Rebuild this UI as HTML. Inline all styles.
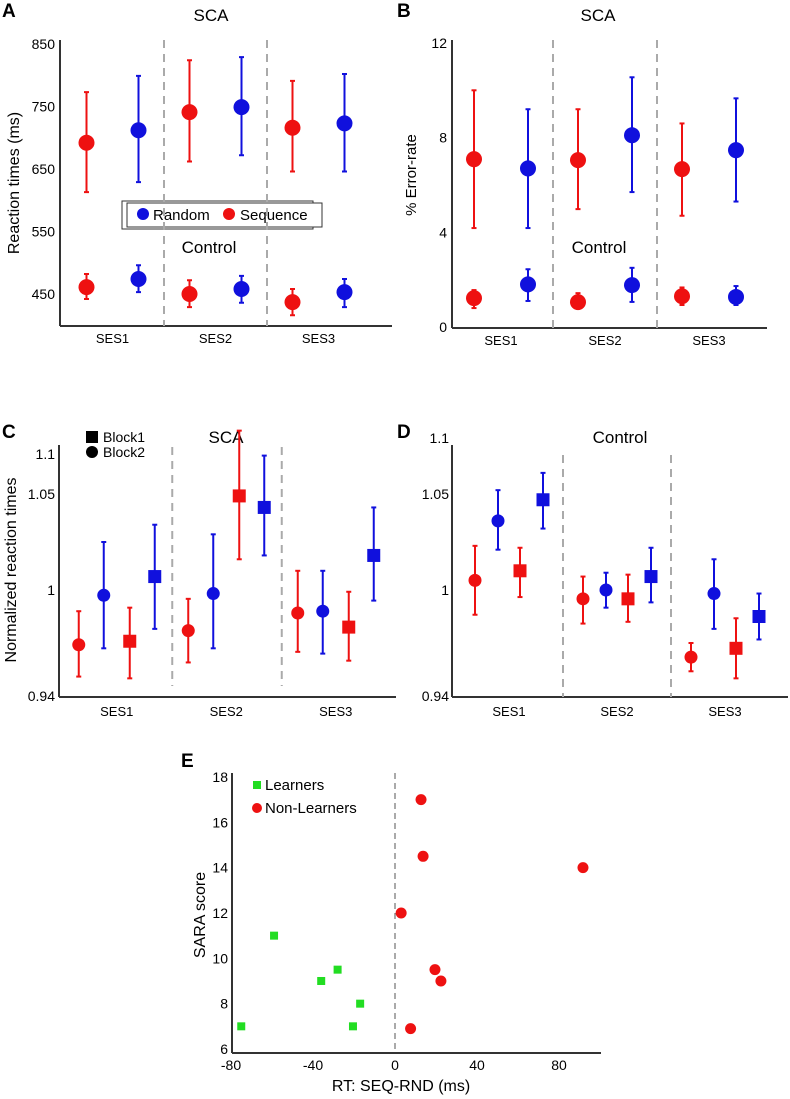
<!DOCTYPE html>
<html><head><meta charset="utf-8">
<style>
html,body{margin:0;padding:0;background:#fff;}
svg{display:block;font-family:"Liberation Sans",Arial,sans-serif;}
</style></head>
<body>
<svg id="fig" width="790" height="1099" viewBox="0 0 790 1099" xmlns="http://www.w3.org/2000/svg">
  <!-- Panel A static -->
  <g>
    <text x="2" y="17" font-size="19" font-weight="bold">A</text>
    <text x="211" y="21" font-size="17" text-anchor="middle">SCA</text>
    <line x1="60" y1="40" x2="60" y2="326" stroke="#333" stroke-width="2"/>
    <line x1="60" y1="326" x2="392" y2="326" stroke="#333" stroke-width="2"/>
    <text transform="translate(19,183) rotate(-90)" font-size="16" text-anchor="middle">Reaction times (ms)</text>
    <text x="209" y="253" font-size="17" text-anchor="middle">Control</text>
    <rect x="122" y="201" width="191" height="28" fill="#fff" stroke="#333" stroke-width="1"/>
    <rect x="127" y="203" width="195" height="24" fill="#fff" stroke="#333" stroke-width="1"/>
    <circle cx="143" cy="214" r="6" fill="#1010dd"/>
    <text x="153" y="220" font-size="15">Random</text>
    <circle cx="229" cy="214" r="6" fill="#ee1111"/>
    <text x="240" y="220" font-size="15">Sequence</text>
  </g>
  <!-- Panel B static -->
  <g>
    <text x="397" y="17" font-size="19" font-weight="bold">B</text>
    <text x="598" y="21" font-size="17" text-anchor="middle">SCA</text>
    <line x1="452" y1="40" x2="452" y2="328" stroke="#333" stroke-width="2"/>
    <line x1="452" y1="328" x2="767" y2="328" stroke="#333" stroke-width="2"/>
    <text transform="translate(416,175) rotate(-90)" font-size="15" text-anchor="middle">% Error-rate</text>
    <text x="599" y="253" font-size="17" text-anchor="middle">Control</text>
  </g>
  <!-- Panel C static -->
  <g>
    <text x="2" y="438" font-size="19" font-weight="bold">C</text>
    <text x="226" y="443" font-size="17" text-anchor="middle">SCA</text>
    <line x1="59" y1="445" x2="59" y2="697" stroke="#333" stroke-width="2"/>
    <line x1="59" y1="697" x2="396" y2="697" stroke="#333" stroke-width="2"/>
    <text transform="translate(16,570) rotate(-90)" font-size="16" text-anchor="middle">Normalized reaction times</text>
    <rect x="86" y="431" width="12" height="12" fill="#000"/>
    <text x="103" y="442" font-size="14">Block1</text>
    <circle cx="92" cy="452" r="6" fill="#000"/>
    <text x="103" y="457" font-size="14">Block2</text>
  </g>
  <!-- Panel D static -->
  <g>
    <text x="397" y="438" font-size="19" font-weight="bold">D</text>
    <text x="620" y="443" font-size="17" text-anchor="middle">Control</text>
    <line x1="452" y1="445" x2="452" y2="697" stroke="#333" stroke-width="2"/>
    <line x1="452" y1="697" x2="788" y2="697" stroke="#333" stroke-width="2"/>
  </g>
  <!-- Panel E static -->
  <g>
    <text x="181" y="767" font-size="19" font-weight="bold">E</text>
    <line x1="232" y1="773" x2="232" y2="1053" stroke="#333" stroke-width="2"/>
    <line x1="232" y1="1053" x2="601" y2="1053" stroke="#333" stroke-width="2"/>
    <text transform="translate(205,915) rotate(-90)" font-size="16" text-anchor="middle">SARA score</text>
    <text x="401" y="1091" font-size="16" text-anchor="middle">RT: SEQ-RND (ms)</text>
    <rect x="253" y="781" width="8" height="8" fill="#22dd22"/>
    <text x="265" y="790" font-size="15">Learners</text>
    <circle cx="257" cy="808" r="5" fill="#ee1111"/>
    <text x="265" y="813" font-size="15">Non-Learners</text>
  </g>
  <g id="marks"></g>
</svg>
<script>
// ---- data ----
const sessions = ["SES1","SES2","SES3"];
// Panel A (ms)
const aTicks = [450,550,650,750,850];
const aScaSeq = [692,741,716], aScaSeqLo = [613,662,646], aScaSeqHi = [773,824,791];
const aScaRnd = [712,749,723], aScaRndLo = [629,672,646], aScaRndHi = [799,829,802];
const aConSeq = [461,450,437], aConSeqLo = [442,429,416], aConSeqHi = [482,472,458];
const aConRnd = [474,458,453], aConRndLo = [453,436,429], aConRndHi = [496,479,474];
// Panel B (%)
const bTicks = [0,4,8,12];
const bScaSeq = [7.09,7.05,6.67], bScaSeqLo = [4.18,4.98,4.7], bScaSeqHi = [10.0,9.2,8.6];
const bScaRnd = [6.7,8.1,7.47], bScaRndLo = [4.18,5.7,5.3], bScaRndHi = [9.2,10.55,9.66];
const bConSeq = [1.22,1.05,1.3], bConSeqLo = [0.8,0.8,0.93], bConSeqHi = [1.56,1.43,1.67];
const bConRnd = [1.8,1.77,1.27], bConRndLo = [1.1,1.06,0.93], bConRndHi = [2.44,2.5,1.73];
// Panel C (normalized)
const cdTicks = [0.94,1,1.05];
const cSeqB2 = [0.969,0.977,0.987], cSeqB2Lo = [0.951,0.959,0.965], cSeqB2Hi = [0.988,0.995,1.010];
const cRndB2 = [0.997,0.998,0.988], cRndB2Lo = [0.967,0.967,0.964], cRndB2Hi = [1.025,1.029,1.010];
const cSeqB1 = [0.971,1.049,0.979], cSeqB1Lo = [0.950,1.016,0.960], cSeqB1Hi = [0.990,1.083,0.999];
const cRndB1 = [1.007,1.043,1.018], cRndB1Lo = [0.978,1.018,0.994], cRndB1Hi = [1.034,1.070,1.043];
// Panel D (normalized)
const dSeqB2 = [1.005,0.995,0.962], dSeqB2Lo = [0.986,0.981,0.954], dSeqB2Hi = [1.023,1.007,0.970];
const dRndB2 = [1.036,1.000,0.998], dRndB2Lo = [1.021,0.990,0.978], dRndB2Hi = [1.052,1.009,1.016];
const dSeqB1 = [1.010,0.995,0.967], dSeqB1Lo = [0.996,0.982,0.950], dSeqB1Hi = [1.022,1.008,0.984];
const dRndB1 = [1.047,1.007,0.985], dRndB1Lo = [1.032,0.993,0.972], dRndB1Hi = [1.061,1.022,0.998];
// Panel E
const eXTicks = [-80,-40,0,40,80];
const eYTicks = [6,8,10,12,14,16,18];
const learnX = [-75,-59,-36,-28,-17,-20.5];
const learnY = [7,11,9,9.5,8,7];
const nonX = [12.7,13.7,91.7,3,19.5,22.4,7.6];
const nonY = [17,14.5,14,12,9.5,9,6.9];

const NS = "http://www.w3.org/2000/svg";
const marks = document.getElementById("marks");
const RED = "#ee1111", BLUE = "#1010dd", GREEN = "#22dd22";
function mk(tag, attrs){ const e = document.createElementNS(NS, tag); for (const k in attrs) e.setAttribute(k, attrs[k]); marks.appendChild(e); return e; }

// ---- scales ----
const yA = v => 294 - (v - 450) * 0.625;
const xA = (s, off) => 61 + (s + 0.5) * 103 + off;
const yB = v => 327 - v * 23.67;
const xB = (s, off) => 449 + (s + 0.5) * 104 + off;
const yCD = v => v <= 1 ? 590 - (v - 1) * 1767 : 590 - (v - 1) * 1920;
const xC = (s, off) => 62 + (s + 0.5) * 109.5 + off;
const xD = (s, off) => 455 + (s + 0.5) * 108 + off;
const xE = v => 395 + v * 2.05;
const yE = v => 1049 - (v - 6) * 22.67;

// ---- axes ticks ----
aTicks.forEach(t => {
  const e = mk("text", {x: 55, y: yA(t) + 5, "font-size": 14, "text-anchor": "end"});
  e.textContent = t;
  
  
});
bTicks.forEach(t => {
  const e = mk("text", {x: 447, y: yB(t) + 5, "font-size": 14, "text-anchor": "end"});
  e.textContent = t;
  
  
});
[[55, "panel-c"], [449, "panel-d"]].forEach(([xx, p]) => {
  cdTicks.forEach(t => {
    const e = mk("text", {x: xx, y: yCD(t) + 5, "font-size": 14, "text-anchor": "end"});
    e.textContent = t;
    
    
  });
  const top = mk("text", {x: xx, y: p === "panel-c" ? 459 : 443, "font-size": 14, "text-anchor": "end"});
  top.textContent = "1.1";
  
  
});
eXTicks.forEach(t => {
  const e = mk("text", {x: xE(t), y: 1070, "font-size": 14, "text-anchor": "middle"});
  e.textContent = t;
  
  
});
eYTicks.forEach(t => {
  const e = mk("text", {x: 228, y: yE(t) + 5, "font-size": 14, "text-anchor": "end"});
  e.textContent = t;
  
  
});
// session labels & dividers
sessions.forEach((s, i) => {
  [[xA(i,0), 343, 'panel-a'], [xB(i,0), 345, 'panel-b'], [xC(i,0), 716, 'panel-c'], [xD(i,0), 716, 'panel-d']].forEach(([x, y, p]) => {
    const e = mk("text", {x: x, y: y, "font-size": 13, "text-anchor": "middle"});
    e.textContent = s;
    
    
  });
});
[1, 2].forEach(i => {
  const dv = [[xA(i,0) - 51.5, 40, 326, 'panel-a'], [xB(i,0) - 52, 40, 328, 'panel-b'], [xC(i,0) - 54, 447, 686, 'panel-c'], [xD(i,0) - 54, 455, 697, 'panel-d']];
  dv.forEach(([x, y1, y2, p]) => {
    const e = mk("line", {x1: x, y1: y1, x2: x, y2: y2, stroke: "#aaa", "stroke-width": 2, "stroke-dasharray": "8,6"});
    
    
  });
});
const z = mk("line", {x1: xE(0), y1: 773, x2: xE(0), y2: 1053, stroke: "#555", "stroke-width": 1, "stroke-dasharray": "6,4"});



// ---- error-bar points ----
function series(vals, lo, hi, xf, yf, off, color, shape, r, name){
  vals.forEach((v, i) => {
    const x = xf(i, off);
    const bar = mk("line", {x1: x, y1: yf(lo[i]), x2: x, y2: yf(hi[i]), stroke: color, "stroke-width": 2});
    
    
    [lo[i], hi[i]].forEach(c => {
      const cap = mk("line", {x1: x - 2.5, y1: yf(c), x2: x + 2.5, y2: yf(c), stroke: color, "stroke-width": 2});
      
      
    });
    let m;
    if (shape === "sq") m = mk("rect", {x: x - r, y: yf(v) - r, width: 2*r, height: 2*r, fill: color});
    else m = mk("circle", {cx: x, cy: yf(v), r: r, fill: color});
    
    
  });
}
series(aScaSeq, aScaSeqLo, aScaSeqHi, xA, yA, -26, RED, "c", 8, "a-sca-sequence");
series(aScaRnd, aScaRndLo, aScaRndHi, xA, yA, 26, BLUE, "c", 8, "a-sca-random");
series(aConSeq, aConSeqLo, aConSeqHi, xA, yA, -26, RED, "c", 8, "a-control-sequence");
series(aConRnd, aConRndLo, aConRndHi, xA, yA, 26, BLUE, "c", 8, "a-control-random");
series(bScaSeq, bScaSeqLo, bScaSeqHi, xB, yB, -27, RED, "c", 8, "b-sca-sequence");
series(bScaRnd, bScaRndLo, bScaRndHi, xB, yB, 27, BLUE, "c", 8, "b-sca-random");
series(bConSeq, bConSeqLo, bConSeqHi, xB, yB, -27, RED, "c", 8, "b-control-sequence");
series(bConRnd, bConRndLo, bConRndHi, xB, yB, 27, BLUE, "c", 8, "b-control-random");
series(cSeqB2, cSeqB2Lo, cSeqB2Hi, xC, yCD, -38, RED, "c", 6.5, "c-sequence-block2");
series(cRndB2, cRndB2Lo, cRndB2Hi, xC, yCD, -13, BLUE, "c", 6.5, "c-random-block2");
series(cSeqB1, cSeqB1Lo, cSeqB1Hi, xC, yCD, 13, RED, "sq", 6.5, "c-sequence-block1");
series(cRndB1, cRndB1Lo, cRndB1Hi, xC, yCD, 38, BLUE, "sq", 6.5, "c-random-block1");
series(dSeqB2, dSeqB2Lo, dSeqB2Hi, xD, yCD, -34, RED, "c", 6.5, "d-sequence-block2");
series(dRndB2, dRndB2Lo, dRndB2Hi, xD, yCD, -11, BLUE, "c", 6.5, "d-random-block2");
series(dSeqB1, dSeqB1Lo, dSeqB1Hi, xD, yCD, 11, RED, "sq", 6.5, "d-sequence-block1");
series(dRndB1, dRndB1Lo, dRndB1Hi, xD, yCD, 34, BLUE, "sq", 6.5, "d-random-block1");

// ---- scatter E ----
learnX.forEach((v, i) => {
  const e = mk("rect", {x: xE(v) - 4, y: yE(learnY[i]) - 4, width: 8, height: 8, fill: GREEN});
  
  
});
nonX.forEach((v, i) => {
  const e = mk("circle", {cx: xE(v), cy: yE(nonY[i]), r: 5.5, fill: RED});
  
  
});
</script>
</body></html>
